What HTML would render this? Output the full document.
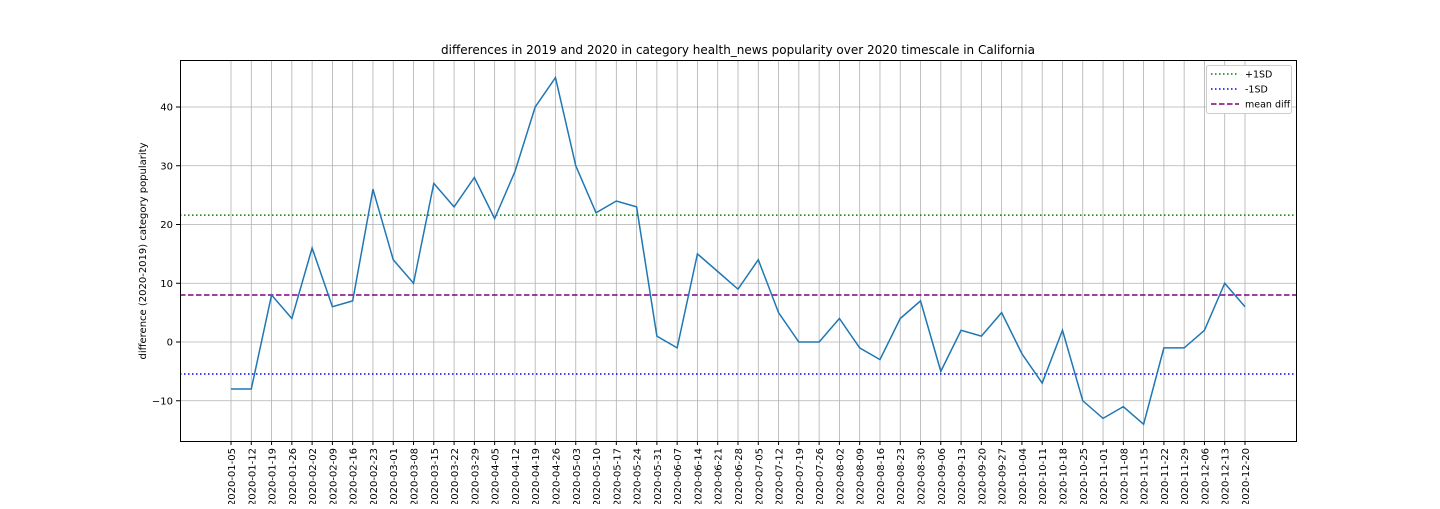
<!DOCTYPE html>
<html><head><meta charset="utf-8"><style>
body{margin:0;background:#fff;}
svg text{font-family:"DejaVu Sans","Liberation Sans",sans-serif;fill:#000;}
</style></head><body>
<svg id="chart" width="1440" height="504" xmlns="http://www.w3.org/2000/svg">
<rect width="1440" height="504" fill="#fff"/>
<g id="grid"></g><g id="refs"></g><g id="series"></g><g id="ticks"></g>
<rect x="180.5" y="60.5" width="1116" height="381" fill="none" stroke="#000" stroke-width="1"/>
<text x="738" y="54" font-size="12" text-anchor="middle">differences in 2019 and 2020 in category health_news popularity over 2020 timescale in California</text>
<text transform="translate(146,251) rotate(-90)" font-size="10" text-anchor="middle">difference (2020-2019) category popularity</text>
<g>
<rect x="1206.5" y="65.5" width="85" height="48" rx="2" fill="#fff" stroke="#ccc"/>
<line x1="1211" y1="74" x2="1239" y2="74" stroke="green" stroke-dasharray="1.5,2.5" stroke-width="1.5"/>
<text x="1245" y="77.5" font-size="9.5">+1SD</text>
<line x1="1211" y1="89" x2="1239" y2="89" stroke="blue" stroke-dasharray="1.5,2.5" stroke-width="1.5"/>
<text x="1245" y="92.5" font-size="9.5">-1SD</text>
<line x1="1211" y1="104" x2="1239" y2="104" stroke="purple" stroke-dasharray="5.5,2.5" stroke-width="1.5"/>
<text x="1245" y="107.5" font-size="9.5">mean diff</text>
</g>
</svg>
<script>
const categories=["2020-01-05","2020-01-12","2020-01-19","2020-01-26","2020-02-02","2020-02-09","2020-02-16","2020-02-23","2020-03-01","2020-03-08","2020-03-15","2020-03-22","2020-03-29","2020-04-05","2020-04-12","2020-04-19","2020-04-26","2020-05-03","2020-05-10","2020-05-17","2020-05-24","2020-05-31","2020-06-07","2020-06-14","2020-06-21","2020-06-28","2020-07-05","2020-07-12","2020-07-19","2020-07-26","2020-08-02","2020-08-09","2020-08-16","2020-08-23","2020-08-30","2020-09-06","2020-09-13","2020-09-20","2020-09-27","2020-10-04","2020-10-11","2020-10-18","2020-10-25","2020-11-01","2020-11-08","2020-11-15","2020-11-22","2020-11-29","2020-12-06","2020-12-13","2020-12-20"];
const values=[-8,-8,8,4,16,6,7,26,14,10,27,23,28,21,29,40,45,30,22,24,23,1,-1,15,12,9,14,5,0,0,4,-1,-3,4,7,-5,2,1,5,-2,-7,2,-10,-13,-11,-14,-1,-1,2,10,6];
const yTicks=[-10,0,10,20,30,40];
const plusSD=21.6, minusSD=-5.45, meanDiff=8.0;
const NS="http://www.w3.org/2000/svg";
const X0=180,X1=1296,Y0=60,Y1=441;
const yMin=-16.85,yMax=48;
function x(i){return 231+i*(1245-231)/(categories.length-1);}
function y(v){return Y1-(v-yMin)/(yMax-yMin)*(Y1-Y0);}
function mk(tag,attrs,parent){const e=document.createElementNS(NS,tag);for(const k in attrs)e.setAttribute(k,attrs[k]);document.getElementById(parent).appendChild(e);return e;}
categories.forEach((c,i)=>{
 const g=mk('line',{x1:x(i),x2:x(i),y1:Y0,y2:Y1,stroke:'#b0b0b0','stroke-width':0.8},'grid');
 
 
 mk('line',{x1:x(i),x2:x(i),y1:Y1,y2:Y1+4,stroke:'#000'},'ticks');
 const t=mk('text',{transform:`translate(${x(i)+4},${Y1+7}) rotate(-90)`,'font-size':10,'text-anchor':'end'},'ticks');
 t.textContent=c;
 
 
});
yTicks.forEach(v=>{
 const g=mk('line',{x1:X0,x2:X1,y1:y(v),y2:y(v),stroke:'#b0b0b0','stroke-width':0.8},'grid');
 
 
 mk('line',{x1:X0-4,x2:X0,y1:y(v),y2:y(v),stroke:'#000'},'ticks');
 const t=mk('text',{x:X0-7,y:y(v)+3.5,'font-size':10,'text-anchor':'end'},'ticks');
 t.textContent=v<0?'\u2212'+(-v):v;
 
 
});
const r1=mk('line',{x1:X0,x2:X1,y1:y(plusSD),y2:y(plusSD),stroke:'green','stroke-width':1.5,'stroke-dasharray':'1.5,2.5'},'refs');


const r2=mk('line',{x1:X0,x2:X1,y1:y(minusSD),y2:y(minusSD),stroke:'blue','stroke-width':1.5,'stroke-dasharray':'1.5,2.5'},'refs');


const r3=mk('line',{x1:X0,x2:X1,y1:y(meanDiff),y2:y(meanDiff),stroke:'purple','stroke-width':1.5,'stroke-dasharray':'5.5,2.5'},'refs');


const p=mk('polyline',{points:values.map((v,i)=>x(i)+','+y(v)).join(' '),fill:'none',stroke:'#1f77b4','stroke-width':1.5},'series');


</script>
</body></html>
